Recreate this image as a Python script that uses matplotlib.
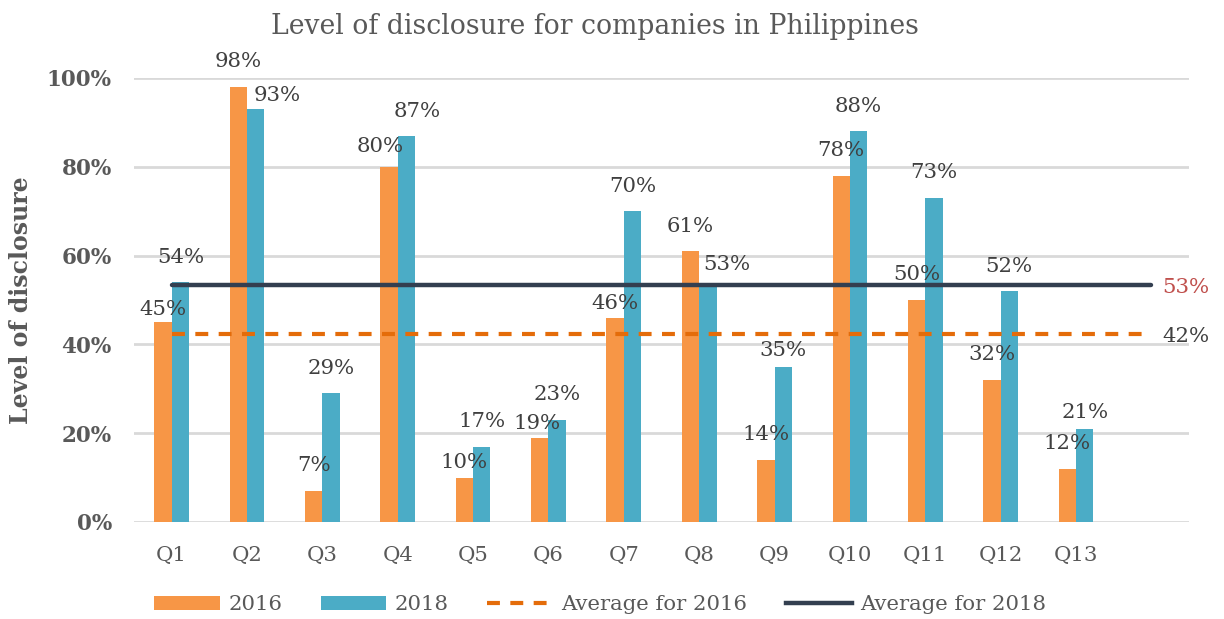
import matplotlib
matplotlib.use("Agg")
import matplotlib.pyplot as plt
from matplotlib.patches import Patch
from matplotlib.lines import Line2D
import numpy as np

# ---- data ----
categories = ["Q1", "Q2", "Q3", "Q4", "Q5", "Q6", "Q7", "Q8", "Q9", "Q10", "Q11", "Q12", "Q13", ""]
values_2016 = [0.45, 0.98, 0.07, 0.80, 0.10, 0.19, 0.46, 0.61, 0.14, 0.78, 0.50, 0.32, 0.12]
values_2018 = [0.54, 0.93, 0.29, 0.87, 0.17, 0.23, 0.70, 0.53, 0.35, 0.88, 0.73, 0.52, 0.21]
avg_2016 = 0.424
avg_2018 = 0.534
yticks = [0, 0.2, 0.4, 0.6, 0.8, 1.0]
title = "Level of disclosure for companies in Philippines"
ylabel = "Level of disclosure"

# ---- style / layout ----
FONT = "DejaVu Serif"
C16 = "#F79646"
C18 = "#4BACC6"
CAVG16 = "#E46C0A"
CAVG18 = "#333F50"
GRAY = "#595959"
TXT = "#404040"
PX = 0.72  # points per pixel at dpi 100
FS = 15.3
DASH = (0, (3.1, 2.5))

# label offsets in pixels: (dx, dy of label centre above bar top)
off16 = {0: (0, 13), 3: (-9, 20), 4: (0, 15), 5: (-3, 14), 6: (0, 14)}
off18 = {1: (21, 14), 3: (11, 24), 7: (19, 22), 8: (0, 16), 12: (0, 16)}
DEF = (0, 25)

fig = plt.figure(figsize=(12.24, 6.19), dpi=100)
ax = fig.add_axes([134/1224, 1-522/619, (1189-134)/1224, (522-78)/619])

n = len(categories)
x = np.arange(n)
w = 0.23
x13 = np.arange(len(values_2016))
ax.bar(x13 - w/2, values_2016, w, color=C16, linewidth=0, zorder=2)
ax.bar(x13 + w/2, values_2018, w, color=C18, linewidth=0, zorder=2)

ax.plot(x, [avg_2016]*n, color=CAVG16, lw=3, ls=DASH, zorder=3)
ax.plot(x, [avg_2018]*n, color=CAVG18, lw=3.2, solid_capstyle="round", zorder=3)

for i, v in enumerate(values_2016):
    dx, dy = off16.get(i, DEF)
    ax.annotate(f"{v:.0%}", (i - w/2, v), xytext=(dx*PX, dy*PX), textcoords="offset points",
                ha="center", va="center", fontsize=FS, family=FONT, color=TXT, zorder=4,
                annotation_clip=False)
for i, v in enumerate(values_2018):
    dx, dy = off18.get(i, DEF)
    ax.annotate(f"{v:.0%}", (i + w/2, v), xytext=(dx*PX, dy*PX), textcoords="offset points",
                ha="center", va="center", fontsize=FS, family=FONT, color=TXT, zorder=4,
                annotation_clip=False)

ax.annotate(f"{avg_2018:.0%}", (n-1, avg_2018), xytext=(11*PX, -3*PX), textcoords="offset points",
            ha="left", va="center", fontsize=FS, family=FONT, color="#C0504D", annotation_clip=False)
ax.annotate(f"{avg_2016:.0%}", (n-1, avg_2016), xytext=(11*PX, -3*PX), textcoords="offset points",
            ha="left", va="center", fontsize=FS, family=FONT, color=TXT, annotation_clip=False)

ax.set_xlim(-0.5, n-0.5)
ax.set_ylim(0, 1.0)
ax.set_yticks(yticks)
ax.set_yticklabels([f"{t:.0%}" for t in yticks], fontsize=15.5, family=FONT, fontweight="bold", color=GRAY)
ax.set_xticks(x)
ax.set_xticklabels(categories, fontsize=FS, family=FONT, color=GRAY)
ax.tick_params(axis="both", length=0)
ax.tick_params(axis="y", pad=16)
ax.tick_params(axis="x", pad=17)
ax.yaxis.grid(True, color="#D9D9D9", lw=2)
ax.set_axisbelow(True)
for s in ax.spines.values():
    s.set_visible(False)

ax.set_ylabel(ylabel, fontsize=17, family=FONT, fontweight="bold", color=GRAY, labelpad=10)
fig.text(595/1224, 1-27/619, title, ha="center", va="center", fontsize=19.2, family=FONT, color=GRAY)

handles = [Patch(facecolor=C16), Patch(facecolor=C18),
           Line2D([], [], color=CAVG16, lw=3, ls=DASH),
           Line2D([], [], color=CAVG18, lw=3.2)]
labels = ["2016", "2018", "Average for 2016", "Average for 2018"]
leg = fig.legend(handles, labels, loc="center", bbox_to_anchor=(600/1224, 1-605/619), ncol=4,
                 frameon=False, prop={"family": FONT, "size": FS}, handlelength=3.1,
                 handleheight=0.6, columnspacing=1.8, handletextpad=0.4)
for t in leg.get_texts():
    t.set_color(GRAY)

fig.savefig("out.png", dpi=100)
